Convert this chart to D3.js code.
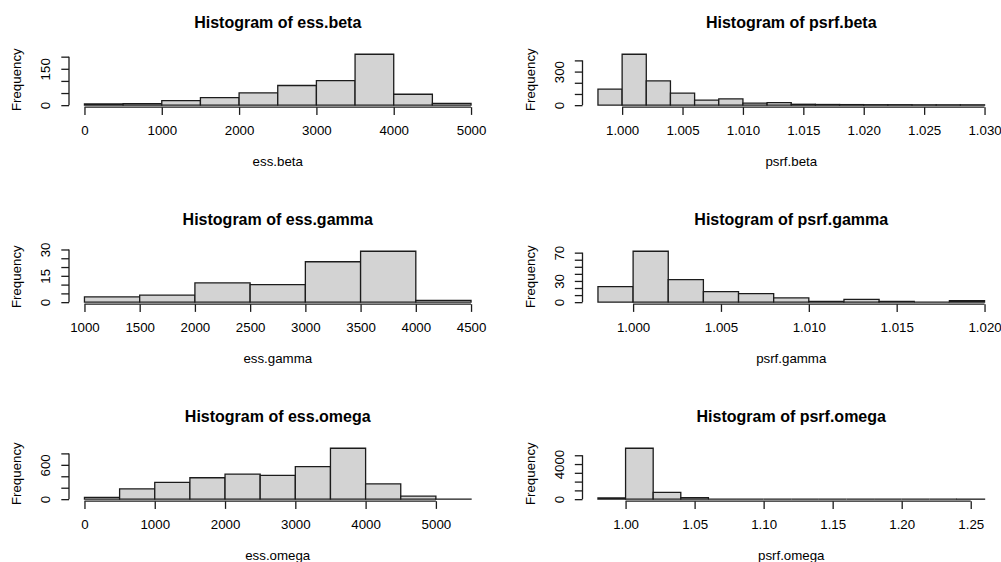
<html>
<head>
<meta charset="utf-8">
<title>Histograms of ess / psrf</title>
<style>
  body { margin: 0; background: #fff; }
  text { font-family: "Liberation Sans", Arial, sans-serif; fill: #000; }
  .title { font-weight: bold; font-size: 16px; }
  .lab { font-size: 13.3px; }
</style>
</head>
<body>
<script src="https://cdn.jsdelivr.net/npm/d3@7"></script>
<script>

var width = 1001, height = 562;

// ---- data ----
var essBetaBreaks = [0,500,1000,1500,2000,2500,3000,3500,4000,4500,5000];
var essBetaCounts = [5,6,19,31,51,81,101,210,45,7];
var essBetaXTicks = [0,1000,2000,3000,4000,5000];
var essBetaYTicks = [0,50,100,150,200];
var essBetaYLabels = [0,150];

var psrfBetaBreaks = [0.998,1.000,1.002,1.004,1.006,1.008,1.010,1.012,1.014,1.016,1.018,1.020,1.022,1.024,1.026,1.028,1.030];
var psrfBetaCounts = [143,455,217,107,45,56,18,23,8,6,5,4,4,3,3,3];
var psrfBetaXTicks = [1.000,1.005,1.010,1.015,1.020,1.025,1.030];
var psrfBetaYTicks = [0,100,200,300,400];
var psrfBetaYLabels = [0,300];

var essGammaBreaks = [1000,1500,2000,2500,3000,3500,4000,4500];
var essGammaCounts = [3,4,11,10,23,29,1];
var essGammaXTicks = [1000,1500,2000,2500,3000,3500,4000,4500];
var essGammaYTicks = [0,5,10,15,20,25,30];
var essGammaYLabels = [0,15,30];

var psrfGammaBreaks = [0.998,1.000,1.002,1.004,1.006,1.008,1.010,1.012,1.014,1.016,1.018,1.020];
var psrfGammaCounts = [22,72,32,15,12,6,1,4,1,0,2];
var psrfGammaXTicks = [1.000,1.005,1.010,1.015,1.020];
var psrfGammaYTicks = [0,10,20,30,40,50,60,70];
var psrfGammaYLabels = [0,30,70];

var essOmegaBreaks = [0,500,1000,1500,2000,2500,3000,3500,4000,4500,5000,5500];
var essOmegaCounts = [30,180,293,374,439,416,567,890,268,53,2];
var essOmegaXTicks = [0,1000,2000,3000,4000,5000];
var essOmegaYTicks = [0,200,400,600,800];
var essOmegaYLabels = [0,600];

var psrfOmegaBreaks = [0.98,1.00,1.02,1.04,1.06,1.08,1.10,1.12,1.14,1.16,1.18,1.20,1.22,1.24,1.26];
var psrfOmegaCounts = [150,5800,770,180,0,0,0,0,0,0,0,0,0,1];
var psrfOmegaXTicks = [1.00,1.05,1.10,1.15,1.20,1.25];
var psrfOmegaYTicks = [0,1000,2000,3000,4000,5000];
var psrfOmegaYLabels = [0,4000];

var panels = [
  {name:"ess.beta",   col:0, row:0, breaks:essBetaBreaks,   counts:essBetaCounts,   xt:essBetaXTicks,   yt:essBetaYTicks,   yl:essBetaYLabels,   fmt:d3.format("d")},
  {name:"psrf.beta",  col:1, row:0, breaks:psrfBetaBreaks,  counts:psrfBetaCounts,  xt:psrfBetaXTicks,  yt:psrfBetaYTicks,  yl:psrfBetaYLabels,  fmt:d3.format(".3f")},
  {name:"ess.gamma",  col:0, row:1, breaks:essGammaBreaks,  counts:essGammaCounts,  xt:essGammaXTicks,  yt:essGammaYTicks,  yl:essGammaYLabels,  fmt:d3.format("d")},
  {name:"psrf.gamma", col:1, row:1, breaks:psrfGammaBreaks, counts:psrfGammaCounts, xt:psrfGammaXTicks, yt:psrfGammaYTicks, yl:psrfGammaYLabels, fmt:d3.format(".3f")},
  {name:"ess.omega",  col:0, row:2, breaks:essOmegaBreaks,  counts:essOmegaCounts,  xt:essOmegaXTicks,  yt:essOmegaYTicks,  yl:essOmegaYLabels,  fmt:d3.format("d")},
  {name:"psrf.omega", col:1, row:2, breaks:psrfOmegaBreaks, counts:psrfOmegaCounts, xt:psrfOmegaXTicks, yt:psrfOmegaYTicks, yl:psrfOmegaYLabels, fmt:d3.format(".2f")}
];

// plot regions (like R's par(mfrow=c(3,2)))
var colLeft = [69, 582.5], plotW = 417.5;
var rowTop = [52.2, 249.2, 446.2], plotH = 55;
var tick = 7.7;
var lineCol = "#1c1c1c";

var svg = d3.select("body").append("svg")
            .attr("width", width)
            .attr("height", height);

panels.forEach(function(p){
  var left = colLeft[p.col], top = rowTop[p.row];
  var lo = p.breaks[0], hi = p.breaks[p.breaks.length-1];
  var ext = (hi - lo) * 0.04;
  var ymax = d3.max(p.counts);

  var x = d3.scaleLinear().domain([lo - ext, hi + ext]).range([0, plotW]);
  var y = d3.scaleLinear().domain([-0.04*ymax, 1.04*ymax]).range([plotH, 0]);

  var g = svg.append("g").attr("transform", "translate(" + left + "," + top + ")");

  // bars (paths so that empty bins still show their outline like R's rect)
  var bins = p.counts.map(function(c, i){ return {x0:p.breaks[i], x1:p.breaks[i+1], n:c}; });
  g.selectAll("path.bar").data(bins).enter().append("path")
    .attr("class","bar")
    .attr("d", function(d){
      var a = x(d.x0), b = x(d.x1), y0 = y(0), y1 = y(d.n);
      return "M" + a + "," + y0 + "V" + y1 + "H" + b + "V" + y0 + "Z";
    })
    .attr("fill", "#d3d3d3")
    .attr("stroke", lineCol)
    .attr("stroke-width", 1.3);

  // x axis
  var xa = g.append("g").attr("transform", "translate(0," + plotH + ")")
    .call(d3.axisBottom(x).tickValues(p.xt).tickSize(tick).tickPadding(10.5).tickFormat(p.fmt));
  xa.select(".domain").remove();
  xa.append("line")
    .attr("x1", x(p.xt[0])).attr("x2", x(p.xt[p.xt.length-1]))
    .attr("stroke", lineCol).attr("stroke-width", 1.3);
  xa.selectAll(".tick line").attr("stroke", lineCol).attr("stroke-width", 1.3);
  xa.selectAll(".tick text").attr("class","lab").attr("fill", "#000");

  // y axis
  var ya = g.append("g")
    .call(d3.axisLeft(y).tickValues(p.yt).tickSize(tick)
      .tickFormat(function(v){ return p.yl.indexOf(v) >= 0 ? d3.format("d")(v) : ""; }));
  ya.select(".domain").remove();
  ya.append("line")
    .attr("y1", y(p.yt[0])).attr("y2", y(p.yt[p.yt.length-1]))
    .attr("stroke", lineCol).attr("stroke-width", 1.3);
  ya.selectAll(".tick line").attr("stroke", lineCol).attr("stroke-width", 1.3);
  ya.selectAll(".tick text").attr("class","lab")
    .attr("transform", "rotate(-90)")
    .attr("x", 0).attr("y", -19).attr("dy", null)
    .attr("text-anchor", "middle")
    .attr("fill", "#000");
  ya.attr("font-family", null).attr("font-size", null);
  xa.attr("font-family", null).attr("font-size", null);

  // title and axis labels
  g.append("text").attr("class","title")
    .attr("x", plotW/2).attr("y", -24)
    .attr("text-anchor","middle")
    .text("Histogram of " + p.name);

  g.append("text").attr("class","lab")
    .attr("x", plotW/2).attr("y", plotH + 59.3)
    .attr("text-anchor","middle")
    .text(p.name);

  g.append("text").attr("class","lab")
    .attr("transform", "translate(-48," + (plotH/2) + ") rotate(-90)")
    .attr("text-anchor","middle")
    .text("Frequency");
});

</script>
</body>
</html>
